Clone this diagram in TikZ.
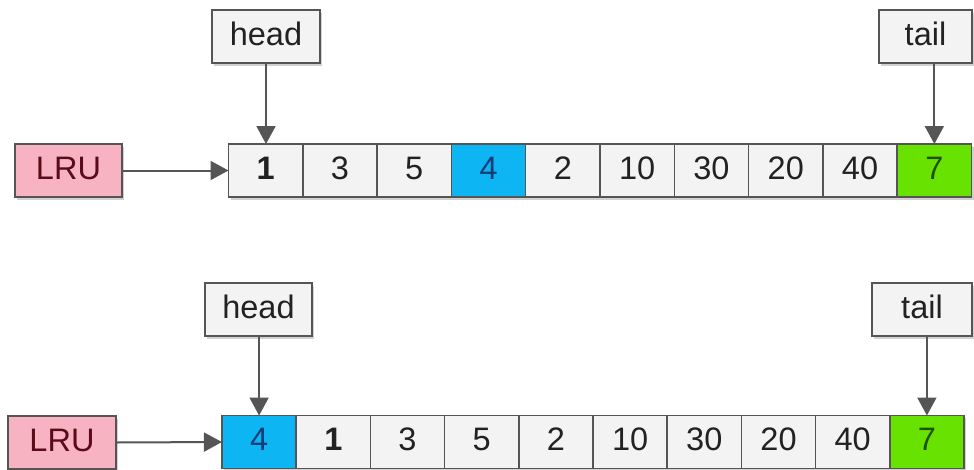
\documentclass[tikz,border=0pt]{standalone}
\usepackage{fontspec}
\setmainfont{Liberation Sans}
\usetikzlibrary{arrows.meta,shadows}

\definecolor{edge}{HTML}{555555}
\definecolor{cellbg}{HTML}{F3F3F3}
\definecolor{ink}{HTML}{222222}
\definecolor{hotbg}{HTML}{0DB5F2}
\definecolor{hotink}{HTML}{143C78}
\definecolor{newbg}{HTML}{68E200}
\definecolor{newink}{HTML}{1F5200}
\definecolor{lrubg}{HTML}{F7B3C2}
\definecolor{lruink}{HTML}{5A0A18}

\tikzset{
  box/.style={draw=edge, line width=1.5pt, inner sep=0pt, outer sep=0pt,
    minimum height=53pt, text=ink, fill=cellbg,
    font=\fontsize{32.5}{32.5}\selectfont, text height=24pt, text depth=7pt,
    drop shadow={shadow xshift=2pt, shadow yshift=-2.5pt, opacity=0.18, fill=black}},
  cell/.style={box, minimum width=74.3pt},
  hot/.style={fill=hotbg, text=hotink},
  fresh/.style={fill=newbg, text=newink},
  lrubox/.style={box, fill=lrubg, text=lruink, minimum width=107pt},
  labelbox/.style={box},
  link/.style={draw=edge, line width=2pt,
    -{Triangle[length=18pt, width=19pt]}},
}

\begin{document}
\begin{tikzpicture}[x=1pt, y=-1pt]
  \useasboundingbox (0,0) rectangle (974,469);

  % ---- list before the access ----
  \node[lrubox] (lruA) at (68.5,170.5) {LRU};
  \foreach \v/\s [count=\i from 0] in {\textbf{1}/{}, 3/{}, 5/{}, 4/hot, 2/{}, 10/{}, 30/{}, 20/{}, 40/{}, 7/fresh}
    \node[cell, \s] (cA\i) at ({228.5+74.3*(\i+0.5)},170.5) {\v};
  \node[labelbox, minimum width=108pt] (headA) at (266,36.5) {head};
  \node[labelbox, minimum width=93pt] (tailA) at (925.5,36.5) {tail};

  \draw[link] (lruA.east) -- (cA0.west);
  \draw[link] (headA.south) -- (headA.south |- cA0.north);
  \draw[link] (tailA.south -| cA9.north) -- (cA9.north);

  % ---- list after 4 moves to the head ----
  \node[lrubox, minimum width=108pt] (lruB) at (62,442.5) {LRU};
  \foreach \v/\s [count=\i from 0] in {4/hot, \textbf{1}/{}, 3/{}, 5/{}, 2/{}, 10/{}, 30/{}, 20/{}, 40/{}, 7/fresh}
    \node[cell, \s] (cB\i) at ({222+74.2*(\i+0.5)},442) {\v};
  \node[labelbox, minimum width=107pt] (headB) at (258.5,309.5) {head};
  \node[labelbox, minimum width=100pt] (tailB) at (922,309.5) {tail};

  \draw[link] (lruB.east) -- (cB0.west);
  \draw[link] (headB.south -| cB0.north) -- (cB0.north);
  \draw[link] (tailB.south -| cB9.north) -- (cB9.north);
\end{tikzpicture}
\end{document}
